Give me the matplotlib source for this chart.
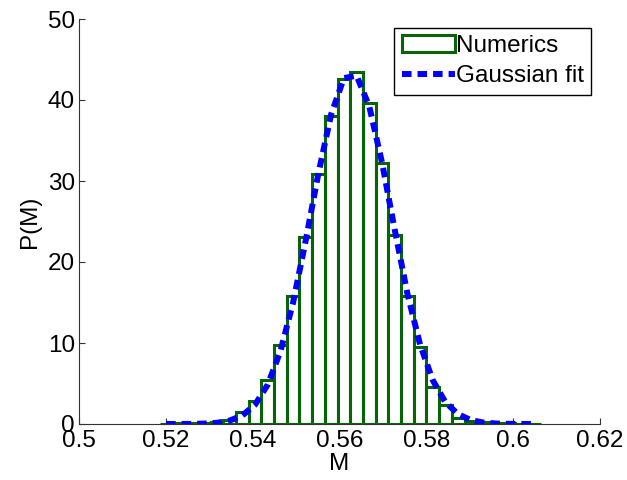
import matplotlib
matplotlib.use("Agg")
import matplotlib.pyplot as plt
import numpy as np

plt.rcParams['font.family'] = ['Liberation Sans', 'DejaVu Sans']

# histogram: 30 bins, left edge and width
bin_start = 0.5186
bin_width = 0.002925
counts = [0.05, 0.08, 0.12, 0.18, 0.25, 0.5, 1.5, 2.9, 5.4, 9.8,
          15.8, 23.1, 30.9, 38.0, 42.6, 43.4, 39.6, 32.2, 23.3, 15.8,
          9.5, 4.6, 2.4, 0.7, 0.4, 0.25, 0.15, 0.1, 0.06, 0.04]

# gaussian fit sampled at the bin centres
fit_vals = [0.0, 0.004, 0.014, 0.05, 0.15, 0.42, 1.05, 2.37, 4.85, 8.97,
            15.0, 22.7, 31.0, 38.25, 42.7, 43.0, 39.2, 32.3, 24.0, 16.1,
            9.8, 5.4, 2.67, 1.2, 0.48, 0.18, 0.06, 0.02, 0.005, 0.0]

xticks = [0.5, 0.52, 0.54, 0.56, 0.58, 0.6, 0.62]
xticklabels = ['0.5', '0.52', '0.54', '0.56', '0.58', '0.6', '0.62']
yticks = [0, 10, 20, 30, 40, 50]

edges = bin_start + bin_width * np.arange(len(counts))
centers = edges + bin_width / 2

fig = plt.figure(figsize=(6.27, 4.8), dpi=100)
ax = fig.add_axes([79/627, 56/480, 521/627, 405/480])

green = '#076407'
bars = ax.bar(edges, counts, width=bin_width, align='edge', color='white',
              edgecolor=green, linewidth=2.2, label='Numerics', zorder=2)
line, = ax.plot(centers, fit_vals, color='#0000ff', linestyle=(0, (1.6, 1.0)),
                linewidth=4.3, label='Gaussian fit', zorder=3)

ax.set_xlim(0.5, 0.62)
ax.set_ylim(0, 50)
ax.set_xticks(xticks)
ax.set_xticklabels(xticklabels)
ax.set_yticks(yticks)
ax.tick_params(direction='in', length=4, labelsize=17.5, top=False, right=False,
               color='#333333')
ax.tick_params(axis='x', pad=4)
ax.tick_params(axis='y', pad=3)
ax.spines['top'].set_visible(False)
ax.spines['right'].set_visible(False)
for s in ['left', 'bottom']:
    ax.spines[s].set_color('#333333')
    ax.spines[s].set_zorder(1)
ax.set_xlabel('M', fontsize=17.5, labelpad=1)
ax.set_ylabel('P(M)', fontsize=17.5, labelpad=5)

leg = ax.legend([bars, line], ['Numerics', 'Gaussian fit'], loc='upper right',
                fontsize=17.5, fancybox=False, edgecolor='black', framealpha=1,
                borderaxespad=0.35, handlelength=2.2, handletextpad=0.05,
                borderpad=0.3, labelspacing=0.35)
leg.get_frame().set_linewidth(1.0)

fig.savefig('out.png', dpi=100)
